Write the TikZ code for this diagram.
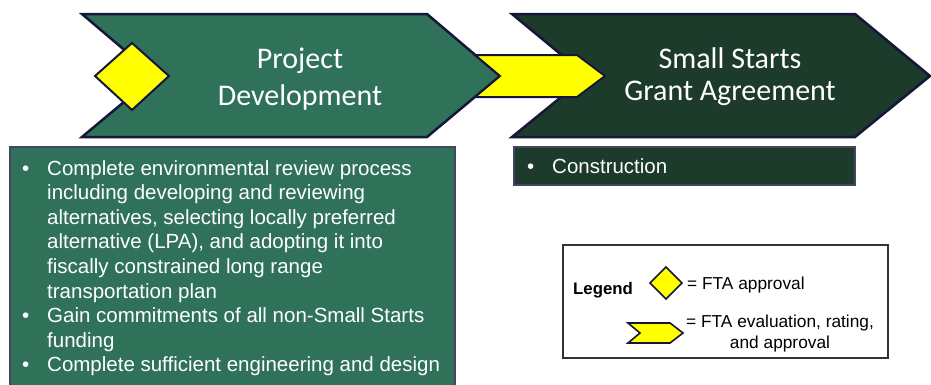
\documentclass[tikz,border=0pt]{standalone}
\usepackage{fontspec}
\setmainfont{Liberation Sans}
\newfontfamily\titlefont{Carlito}
\usepackage{tikz}
\usetikzlibrary{positioning}
\definecolor{DevGreen}{HTML}{2F7259}
\definecolor{GrantGreen}{HTML}{1C3B2B}
\definecolor{EdgeNavy}{HTML}{15163A}
\definecolor{ApprovalYellow}{HTML}{FFFF00}

\begin{document}
\begin{tikzpicture}[
  x=1pt, y=-1pt,
  phase/.style={draw=EdgeNavy, line width=2.5pt, line join=miter},
  approval/.style={draw=EdgeNavy, line width=2pt, fill=ApprovalYellow, line join=miter},
  panel/.style={draw=EdgeNavy!80, line width=1.2pt},
  title/.style={text=white, align=center, inner sep=0pt},
  bullet/.style={text=white, font=\fontsize{20.5}{24.6}\selectfont, anchor=base west, inner sep=0pt},
  legtext/.style={font=\fontsize{17.3}{21}\selectfont, inner sep=0pt}
]
\useasboundingbox (0,0) rectangle (931,384);
\fill[white] (0,0) rectangle (931,384);

% phases
\draw[phase, fill=DevGreen] (82,14) -- (427,14) -- (500,76) -- (427,137) -- (82,137) -- (155,76) -- cycle;
\draw[phase, fill=GrantGreen] (512,14) -- (855,14) -- (930,76) -- (855,137) -- (512,137) -- (587,76) -- cycle;
\draw[approval] (475,55) -- (577,55) -- (605,76) -- (577,97) -- (475,97) -- (500,76) -- cycle;
\draw[approval] (95,76) -- (132,43) -- (169,76) -- (132,110) -- cycle;

\node[title, font=\titlefont\fontsize{30}{37}\selectfont, anchor=base] (dev) at (300,105) {Project\\Development};
\node[title, font=\titlefont\fontsize{30}{32.5}\selectfont, anchor=base] (grant) at (730,100.5) {Small Starts\\Grant Agreement};

% activities
\draw[panel, fill=DevGreen] (10,147) rectangle (455,392);
\draw[panel, fill=GrantGreen] (514,147) rectangle (855,185);

\foreach \txt [count=\i] in {
  Complete environmental review process,
  including developing and reviewing,
  {alternatives, selecting locally preferred},
  {alternative (LPA), and adopting it into},
  fiscally constrained long range,
  transportation plan,
  Gain commitments of all non-Small Starts,
  funding,
  Complete sufficient engineering and design}
  \node[bullet] (devLine\i) at (47,175+24.6*\i-24.6) {\txt};
\foreach \i in {1,7,9}
  \node[bullet] (devDot\i) at (22,175+24.6*\i-24.6) {\textbullet};

\node[bullet] (grantLine) at (552,173) {Construction};
\node[bullet] (grantDot) at (527,173) {\textbullet};

% legend
\draw[line width=1.5pt, draw=black!80, fill=white] (563,245) rectangle (888,358);
\node[legtext, anchor=base west, font=\bfseries\fontsize{16.8}{21}\selectfont] (legend) at (573,294) {Legend};
\draw[approval, line width=1.6pt] (650,283) -- (666,267) -- (682,283) -- (666,299) -- cycle;
\node[legtext, anchor=base west] (legDiamond) at (687,289) {= FTA approval};
\draw[approval, line width=1.6pt] (628,323) -- (670,323) -- (683,333) -- (670,343) -- (628,343) -- (640,333) -- cycle;
\node[legtext, anchor=base, align=center] (legChevron) at (780,348) {= FTA evaluation, rating,\\and approval};
\end{tikzpicture}
\end{document}
